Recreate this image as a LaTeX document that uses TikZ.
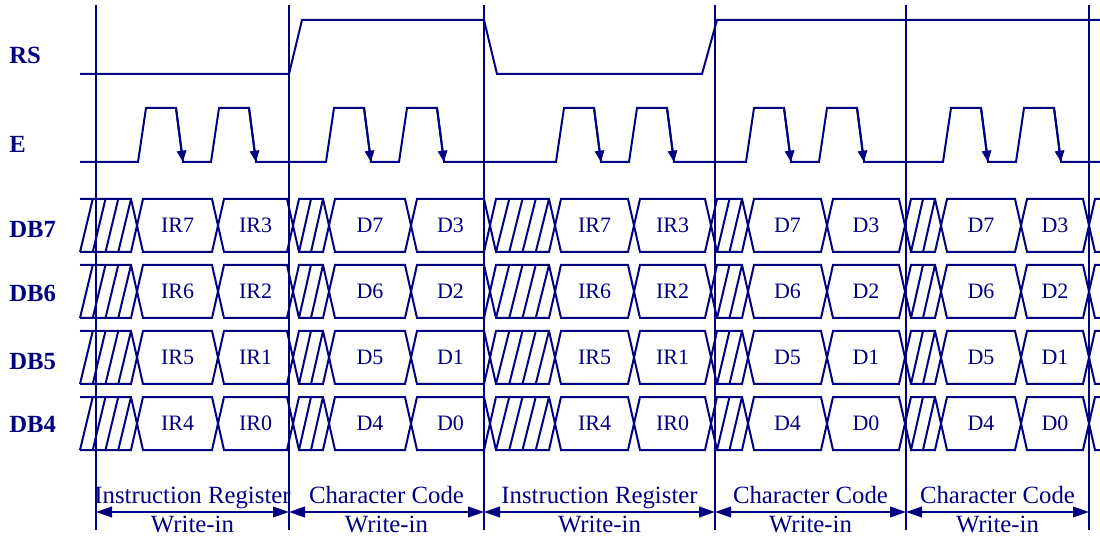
\documentclass[tikz,border=0pt]{standalone}
\usepackage{fontspec}
\setmainfont{Liberation Serif}
\usetikzlibrary{arrows.meta}
\definecolor{navy}{RGB}{0,0,128}

\newcommand{\buscell}[3]{%
\draw[bus] (#1,#3+26.5) -- (#1+6,#3) -- (#2-6,#3) -- (#2,#3+26.5) -- (#2-6,#3+53) -- (#1+6,#3+53) -- cycle;}
\newcommand{\hatch}[4]{%
\foreach \k in {1,...,#3}
  \draw[bus] ({#1+(\k-1)*(#2-#1)/#3},#4+53) -- ({#1+\k*(#2-#1)/#3},#4);}

\begin{document}
\begin{tikzpicture}[x=0.75pt, y=-0.75pt,
  sig/.style={navy, line width=1.5pt},
  bus/.style={navy, line width=1.5pt},
  grid/.style={navy, line width=0.8pt},
  lab/.style={navy, font=\fontsize{18.5}{20}\selectfont\bfseries, inner sep=0pt, anchor=base west},
  val/.style={navy, font=\fontsize{16.5}{18}\selectfont, inner sep=0pt},
  note/.style={navy, font=\fontsize{18.6}{20}\selectfont, inner sep=0pt, anchor=base},
  span/.style={navy, line width=1.5pt, {Triangle[length=12pt,width=8pt]}-{Triangle[length=12pt,width=8pt]}}]
\useasboundingbox (0,0) rectangle (1100,538);

% signal names
\node[lab] (rs) at (9,64) {RS};
\node[lab] (e) at (9,153) {E};
\node[lab] (db7) at (9,238) {DB7};
\node[lab] (db6) at (9,302) {DB6};
\node[lab] (db5) at (9,369) {DB5};
\node[lab] (db4) at (9,432) {DB4};

% RS
\draw[sig] (80,74) -- (289,74) -- (302,20) -- (484,20) -- (497,74) -- (702,74) -- (717,20) -- (1100,20);

% E
\draw[sig] (80,162) \foreach \p in {138,211,326,399,556,629,746,819,943,1016} { -- (\p,162) -- (\p+8,108) -- (\p+38,108) -- (\p+45,162) } -- (1100,162);
\foreach \p in {138,211,326,399,556,629,746,819,943,1016}
  \draw[sig,-{Triangle[length=8.5pt,width=7pt]}] (\p+38,108) -- (\p+45,162);

% DB7..DB4
\foreach \r/\hi/\lo [count=\j from 0] in {7/7/3,6/6/2,5/5/1,4/4/0} {
  \pgfmathsetmacro\rowtop{199+66*\j}
  \draw[bus] (137,\rowtop+26.5) -- (131,\rowtop) -- (80,\rowtop) (80,\rowtop+53) -- (131,\rowtop+53) -- (137,\rowtop+26.5);
  \hatch{80}{131}{4}{\rowtop}
  \buscell{293}{329}{\rowtop} \hatch{299}{323}{2}{\rowtop}
  \buscell{490}{555}{\rowtop} \hatch{496}{549}{4}{\rowtop}
  \buscell{711}{748}{\rowtop} \hatch{717}{742}{2}{\rowtop}
  \buscell{905}{941}{\rowtop} \hatch{911}{935}{2}{\rowtop}
  \foreach \a/\b/\t [count=\i] in {137/218/IR\hi, 218/293/IR\lo, 329/411/D\hi, 411/490/D\lo,
      555/634/IR\hi, 634/711/IR\lo, 748/827/D\hi, 827/905/D\lo, 941/1021/D\hi, 1021/1089/D\lo} {
    \buscell{\a}{\b}{\rowtop}
    \node[val] (d\r-\i) at ({(\a+\b)/2},\rowtop+26.5) {\t};
  }
  \draw[bus] (1100,\rowtop) -- (1095,\rowtop) -- (1089,\rowtop+26.5) -- (1095,\rowtop+53) -- (1100,\rowtop+53);
}

% cycle boundaries
\foreach \x [count=\i from 0] in {96,289,484,715,906,1089} {
  \coordinate (t\i) at (\x,5);
  \coordinate (b\i) at (\x,530);
  \coordinate (m\i) at (\x,512);
  \draw[grid] (t\i) -- (b\i);
}

\draw[span] (m0) -- (m1) node[note, midway, yshift=6.75pt] (reg1) {Instruction Register} node[note, midway, yshift=-15pt] (wr1) {Write-in};
\draw[span] (m1) -- (m2) node[note, midway, yshift=6.75pt] (chr1) {Character Code} node[note, midway, yshift=-15pt] (wr2) {Write-in};
\draw[span] (m2) -- (m3) node[note, midway, yshift=6.75pt] (reg2) {Instruction Register} node[note, midway, yshift=-15pt] (wr3) {Write-in};
\draw[span] (m3) -- (m4) node[note, midway, yshift=6.75pt] (chr2) {Character Code} node[note, midway, yshift=-15pt] (wr4) {Write-in};
\draw[span] (m4) -- (m5) node[note, midway, yshift=6.75pt] (chr3) {Character Code} node[note, midway, yshift=-15pt] (wr5) {Write-in};
\end{tikzpicture}
\end{document}
